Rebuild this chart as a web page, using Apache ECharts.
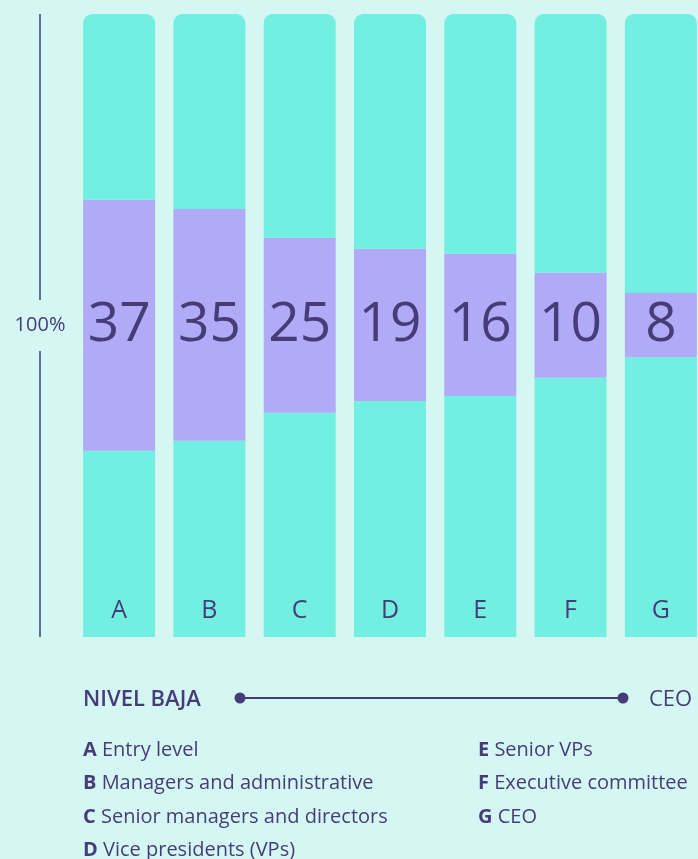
<!DOCTYPE html>
<html>
<head>
<meta charset="utf-8">
<script src="https://cdn.jsdelivr.net/npm/echarts@6/dist/echarts.min.js"></script>
<style>
  html, body { margin: 0; padding: 0; background: #d4f7f3; overflow: hidden; }
  #chart { width: 706px; height: 859px; }
</style>
</head>
<body>
<div id="chart"></div>
<script>
const categories = ['A', 'B', 'C', 'D', 'E', 'F', 'G']
const shareLabels = [37, 35, 25, 19, 16, 10, 8]
// share of each bar's height (percent), bottom to top
const lowerPart = [29.9, 31.5, 36.0, 37.9, 38.7, 41.6, 44.9]
const middlePart = [40.3, 37.2, 28.1, 24.4, 22.8, 16.9, 10.3]
const upperPart = [29.8, 31.3, 35.9, 37.7, 38.5, 41.5, 44.8]
const legendLeft = [['A', 'Entry level'], ['B', 'Managers and administrative'], ['C', 'Senior managers and directors'], ['D', 'Vice presidents (VPs)']]
const legendRight = [['E', 'Senior VPs'], ['F', 'Executive committee'], ['G', 'CEO']]

const ink = '#463d78'
const teal = '#72efe0'
const lilac = '#b1aaf6'
const font = '"Open Sans"'

// the bars run a little past the right edge of the picture, so the canvas is wider than the window
const myChart = echarts.init(document.getElementById('chart'))

const legendText = (items, x) => items.map((it, i) => ({
  type: 'text',
  left: x,
  top: 740 + i * 33.5,
  style: {
    text: '{b|' + it[0] + '} ' + it[1],
    fill: ink,
    font: '20px ' + font,
    rich: {
      b: { fontWeight: 'bold', fontSize: 20, fontFamily: font, fill: ink }
    }
  }
}))

myChart.setOption({
  backgroundColor: '#d4f7f3',
  animation: false,
  grid: { left: 74, right: 0, top: 14, bottom: 222 },
  xAxis: {
    type: 'category',
    data: categories,
    axisLine: { show: false },
    axisTick: { show: false },
    axisLabel: { show: false }
  },
  yAxis: {
    type: 'value',
    min: 0,
    max: 100,
    show: false
  },
  series: [
    {
      type: 'bar',
      stack: 'all',
      barWidth: 72,
      data: lowerPart,
      itemStyle: { color: teal },
      label: {
        show: true,
        position: 'insideBottom',
        distance: 14,
        formatter: p => categories[p.dataIndex],
        color: ink,
        fontSize: 25,
        fontFamily: font
      }
    },
    {
      type: 'bar',
      stack: 'all',
      data: middlePart,
      itemStyle: { color: lilac },
      label: {
        show: true,
        position: 'inside',
        formatter: p => shareLabels[p.dataIndex],
        color: ink,
        fontSize: 55,
        fontFamily: font
      }
    },
    {
      type: 'bar',
      stack: 'all',
      data: upperPart,
      itemStyle: { color: teal, borderRadius: [9, 9, 0, 0] }
    }
  ],
  graphic: [
    { type: 'line', shape: { x1: 40, y1: 14, x2: 40, y2: 300 }, style: { stroke: ink, lineWidth: 1.5 } },
    { type: 'line', shape: { x1: 40, y1: 351, x2: 40, y2: 637 }, style: { stroke: ink, lineWidth: 1.5 } },
    { type: 'text', x: 40, y: 325, style: { text: '100%', fill: ink, font: '20px ' + font, textAlign: 'center', textVerticalAlign: 'middle' } },
    { type: 'text', x: 83, y: 700, style: { text: 'NIVEL BAJA', fill: ink, font: '600 22px ' + font, textVerticalAlign: 'middle' } },
    { type: 'line', shape: { x1: 240, y1: 698, x2: 623, y2: 698 }, style: { stroke: ink, lineWidth: 2 } },
    { type: 'circle', shape: { cx: 240, cy: 698, r: 5.5 }, style: { fill: ink } },
    { type: 'circle', shape: { cx: 623, cy: 698, r: 5.5 }, style: { fill: ink } },
    { type: 'text', x: 649, y: 700, style: { text: 'CEO', fill: ink, font: '22px ' + font, textVerticalAlign: 'middle' } },
    ...legendText(legendLeft, 83),
    ...legendText(legendRight, 478)
  ]
})
</script>
</body>
</html>
